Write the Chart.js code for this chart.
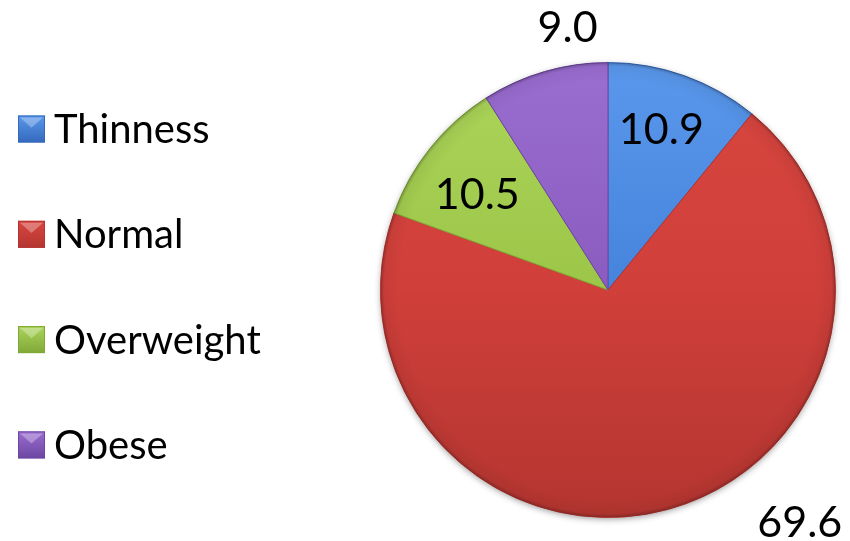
<!DOCTYPE html>
<html lang="en">
<head>
    <meta charset="UTF-8">
    <title>BMI categories</title>
    <script src="https://cdn.jsdelivr.net/npm/chart.js"></script>
    <style>
        body { margin: 0; background-color: #fff; }
        #wrap { width: 850px; height: 541px; }
    </style>
</head>
<body>
    <div id="wrap">
        <canvas id="pieChart" width="850" height="541"></canvas>
    </div>

    <script>
        // categories and their shares (%)
        const categories = ['Thinness', 'Normal', 'Overweight', 'Obese'];
        const shares = [10.9, 69.6, 10.5, 9.0];

        // slice colours: [light, base, dark]
        const sliceColors = [
            ['#5a98ec', '#4683dc', '#3469bc'],
            ['#d8463f', '#d03f3a', '#b43530'],
            ['#acd55a', '#9cc648', '#80a838'],
            ['#9a6dd0', '#8a5cc0', '#6c46a2']
        ];

        // where each value label sits: k = distance / radius, da = angle shift (deg)
        const labelPlace = [
            { k: 0.75, da: -1.4 },
            { k: 1.32, da: -24.2 },
            { k: 0.715, da: -2.2 },
            { k: 1.175, da: 7.5 }
        ];

        const FONT = 'Lato, Calibri, "Liberation Sans", sans-serif';

        function sliceFill(context) {
            const chart = context.chart;
            const area = chart.chartArea;
            const c = sliceColors[context.dataIndex];
            if (!area) return c[1];
            const g = chart.ctx.createLinearGradient(0, area.top, 0, area.bottom);
            g.addColorStop(0, c[0]);
            g.addColorStop(0.5, c[1]);
            g.addColorStop(1, c[2]);
            return g;
        }

        // soft drop shadow under the pie and a darker rim on top of it
        const pieShade = {
            id: 'pieShade',
            beforeDatasetsDraw(chart) {
                const arc = chart.getDatasetMeta(0).data[0];
                if (!arc) return;
                const ctx = chart.ctx;
                ctx.save();
                ctx.shadowColor = 'rgba(0,0,0,0.45)';
                ctx.shadowBlur = 7;
                ctx.shadowOffsetY = 2;
                ctx.fillStyle = '#b53531';
                ctx.beginPath();
                ctx.arc(arc.x, arc.y, arc.outerRadius - 1, 0, Math.PI * 2);
                ctx.fill();
                ctx.restore();
            },
            afterDatasetsDraw(chart) {
                const arc = chart.getDatasetMeta(0).data[0];
                if (!arc) return;
                const ctx = chart.ctx;
                const r = arc.outerRadius;
                ctx.save();
                ctx.beginPath();
                ctx.arc(arc.x, arc.y, r, 0, Math.PI * 2);
                ctx.clip();
                const g = ctx.createRadialGradient(arc.x, arc.y, r * 0.92, arc.x, arc.y, r);
                g.addColorStop(0, 'rgba(0,0,0,0)');
                g.addColorStop(0.8, 'rgba(0,0,0,0.05)');
                g.addColorStop(1, 'rgba(0,0,0,0.26)');
                ctx.fillStyle = g;
                ctx.fillRect(arc.x - r, arc.y - r, r * 2, r * 2);
                ctx.restore();
            }
        };

        // value labels, placed relative to each slice's middle angle
        const valueLabels = {
            id: 'valueLabels',
            afterDatasetsDraw(chart) {
                const ctx = chart.ctx;
                const meta = chart.getDatasetMeta(0);
                ctx.save();
                ctx.font = '43px ' + FONT;
                ctx.fillStyle = '#000';
                ctx.textAlign = 'center';
                ctx.textBaseline = 'middle';
                meta.data.forEach((arc, i) => {
                    const p = labelPlace[i];
                    const mid = (arc.startAngle + arc.endAngle) / 2 + p.da * Math.PI / 180;
                    const d = arc.outerRadius * p.k;
                    const x = arc.x + Math.cos(mid) * d;
                    const y = arc.y + Math.sin(mid) * d;
                    ctx.fillText(shares[i].toFixed(1), x, y + 2);
                });
                ctx.restore();
            }
        };

        // legend down the left side, bevelled colour boxes
        const sideLegend = {
            id: 'sideLegend',
            afterDraw(chart) {
                const ctx = chart.ctx;
                const box = 27;
                const x0 = 18;
                const firstY = 129;
                const step = 105.3;
                ctx.save();
                ctx.font = '40px ' + FONT;
                ctx.textBaseline = 'middle';
                categories.forEach((name, i) => {
                    const c = sliceColors[i];
                    const cy = firstY + i * step;
                    const top = cy - box / 2;
                    const g = ctx.createLinearGradient(0, top, 0, top + box);
                    g.addColorStop(0, c[0]);
                    g.addColorStop(1, c[2]);
                    ctx.fillStyle = g;
                    ctx.fillRect(x0, top, box, box);
                    // lighter top bevel
                    ctx.fillStyle = 'rgba(255,255,255,0.3)';
                    ctx.beginPath();
                    ctx.moveTo(x0 + 2, top + 2);
                    ctx.lineTo(x0 + box - 2, top + 2);
                    ctx.lineTo(x0 + box / 2, top + box * 0.45);
                    ctx.closePath();
                    ctx.fill();
                    ctx.strokeStyle = c[2];
                    ctx.lineWidth = 1;
                    ctx.strokeRect(x0 + 0.5, top + 0.5, box - 1, box - 1);
                    ctx.fillStyle = '#000';
                    ctx.fillText(name, x0 + box + 9, cy + 1);
                });
                ctx.restore();
            }
        };

        const ctxPie = document.getElementById('pieChart').getContext('2d');

        let pieChart = new Chart(ctxPie, {
            type: 'pie',
            data: {
                labels: categories,
                datasets: [{
                    data: shares,
                    backgroundColor: sliceFill,
                    borderColor: sliceColors.map(c => c[2]),
                    borderWidth: 1
                }]
            },
            options: {
                responsive: false,
                animation: false,
                layout: {
                    padding: { left: 380, right: 14, top: 62, bottom: 23 }
                },
                plugins: {
                    legend: { display: false },
                    tooltip: { enabled: false }
                }
            },
            plugins: [pieShade, valueLabels, sideLegend]
        });
    </script>
</body>
</html>
